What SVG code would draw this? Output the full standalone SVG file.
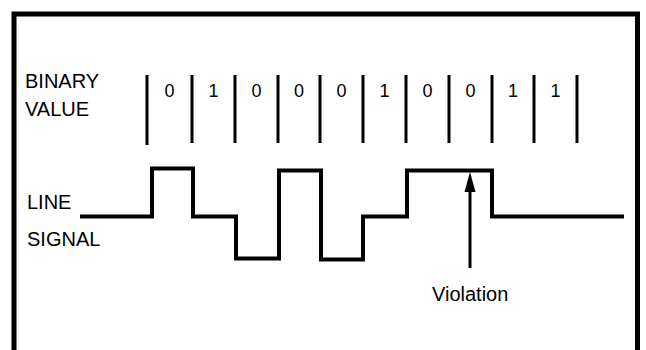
<svg xmlns="http://www.w3.org/2000/svg" width="646" height="350" viewBox="0 0 646 350">
<style>
text{font-family:"Liberation Sans",Arial,sans-serif;fill:#000}
.lbl{font-size:20px}
.dig{font-size:18px;text-anchor:middle}
.tick{stroke:#000;stroke-width:3;fill:none}
.wave{stroke:#000;stroke-width:4;fill:none;stroke-linejoin:miter;stroke-linecap:square}
</style>
<rect width="646" height="350" fill="#fff"/>
<path id="frame" d="M14,350 V14 H637.5 V350" fill="none" stroke="#000" stroke-width="5" stroke-linejoin="miter"/>
<g id="label-binary">
<text class="lbl" x="25" y="88">BINARY</text>
<text class="lbl" x="25" y="116">VALUE</text>
</g>
<g id="label-line">
<text class="lbl" x="27" y="209">LINE</text>
<text class="lbl" x="27" y="246">SIGNAL</text>
</g>
<g id="ticks" class="tick">
<line x1="147" y1="75" x2="147" y2="145"/>
<line x1="192" y1="75" x2="192" y2="143"/>
<line x1="235" y1="75" x2="235" y2="143"/>
<line x1="278" y1="75" x2="278" y2="143"/>
<line x1="320" y1="75" x2="320" y2="143"/>
<line x1="363" y1="75" x2="363" y2="143"/>
<line x1="406" y1="75" x2="406" y2="143"/>
<line x1="449" y1="75" x2="449" y2="143"/>
<line x1="492" y1="75" x2="492" y2="143"/>
<line x1="534" y1="75" x2="534" y2="143"/>
<line x1="577" y1="75" x2="577" y2="143"/>
</g>
<g id="bits">
<text class="dig" x="169.5" y="96.5">0</text>
<text class="dig" x="213.5" y="96.5">1</text>
<text class="dig" x="256.5" y="96.5">0</text>
<text class="dig" x="299" y="96.5">0</text>
<text class="dig" x="341.5" y="96.5">0</text>
<text class="dig" x="384.5" y="96.5">1</text>
<text class="dig" x="427.5" y="96.5">0</text>
<text class="dig" x="470.5" y="96.5">0</text>
<text class="dig" x="513" y="96.5">1</text>
<text class="dig" x="555.5" y="96.5">1</text>
</g>
<g id="signal">
<path class="wave" d="M82,216.5 H152 V168.5 H193 V216.5 H236 V258.5 H279 V170.5 H321 V259.5 H363 V216.5 H407 V170.5 H492 V216.5 H622"/>
</g>
<g id="connectors">
<line x1="470" y1="268" x2="470" y2="188" stroke="#000" stroke-width="3"/>
<polygon points="470,172 464.5,192 475.5,192" fill="#000"/>
</g>
<g id="violation">
<text class="lbl" x="432" y="301">Violation</text>
</g>
</svg>
